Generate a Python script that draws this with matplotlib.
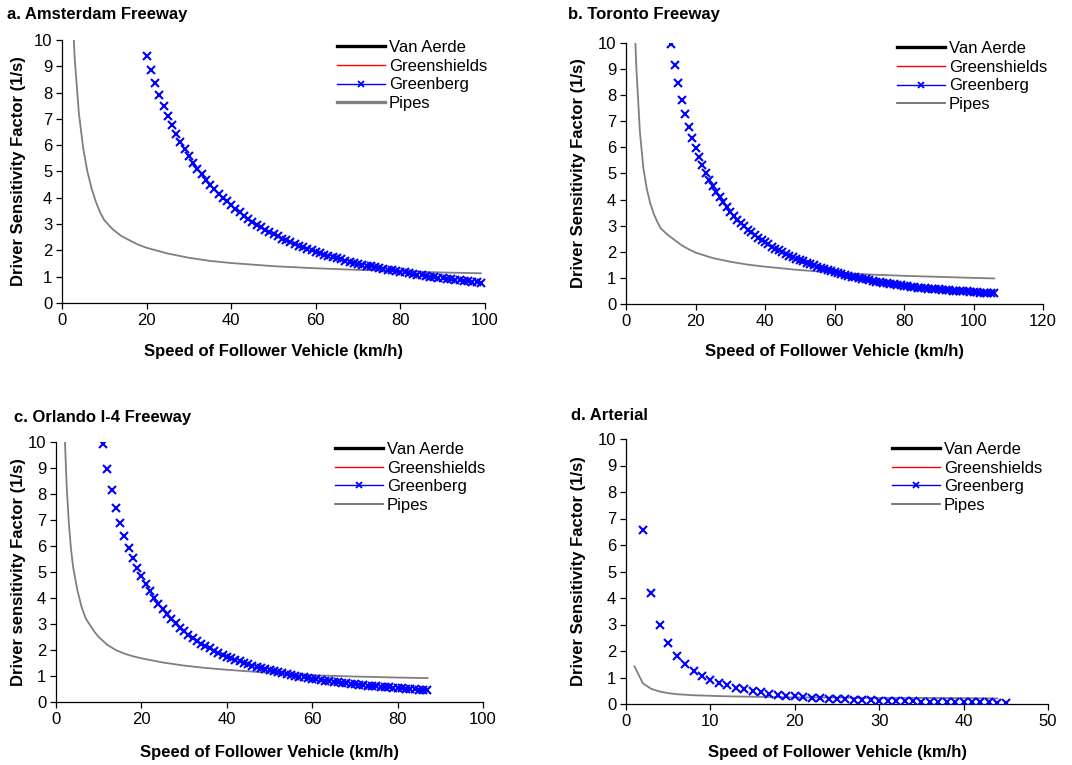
import matplotlib
matplotlib.use('Agg')
import matplotlib.pyplot as plt
from matplotlib.lines import Line2D

plt.rcParams['font.family'] = ['Liberation Sans', 'DejaVu Sans']

W, H = 1072, 765

########################## DATA ##########################

legend_labels = ['Van Aerde', 'Greenshields', 'Greenberg', 'Pipes']

# a. Amsterdam Freeway
ams_gb_speed = list(range(20, 100))
ams_gb = [9.40, 8.85, 8.35, 7.90, 7.50, 7.12, 6.77, 6.44, 6.14, 5.85,
          5.58, 5.33, 5.10, 4.89, 4.69, 4.50, 4.33, 4.16, 4.01, 3.87,
          3.73, 3.59, 3.45, 3.32, 3.20, 3.09, 2.98, 2.88, 2.79, 2.70,
          2.61, 2.53, 2.45, 2.38, 2.31, 2.24, 2.18, 2.12, 2.06, 2.00,
          1.95, 1.90, 1.84, 1.79, 1.75, 1.70, 1.66, 1.61, 1.57, 1.53,
          1.50, 1.46, 1.42, 1.39, 1.36, 1.33, 1.30, 1.27, 1.24, 1.21,
          1.19, 1.16, 1.13, 1.10, 1.08, 1.05, 1.03, 1.00, 0.98, 0.96,
          0.94, 0.92, 0.90, 0.88, 0.86, 0.84, 0.82, 0.80, 0.79, 0.77]
ams_pp_speed = [2.8, 3, 4, 5, 6, 7, 8, 9, 10, 12, 14, 16, 18, 20, 25, 30, 35,
                40, 50, 60, 70, 80, 90, 99]
ams_pp = [10.0, 9.3, 7.2, 5.9, 5.0, 4.35, 3.85, 3.45, 3.15, 2.8, 2.55, 2.38,
          2.22, 2.1, 1.88, 1.72, 1.6, 1.52, 1.4, 1.32, 1.26, 1.21, 1.16, 1.13]

# b. Toronto Freeway
tor_gb_speed = list(range(13, 107))
tor_gb = [9.96, 9.16, 8.46, 7.83, 7.28, 6.80, 6.36, 5.97, 5.62, 5.31,
          5.03, 4.77, 4.53, 4.30, 4.09, 3.89, 3.70, 3.52, 3.37, 3.23,
          3.09, 2.97, 2.85, 2.74, 2.63, 2.53, 2.44, 2.36, 2.28, 2.20,
          2.12, 2.05, 1.98, 1.92, 1.85, 1.79, 1.74, 1.68, 1.63, 1.58,
          1.53, 1.48, 1.43, 1.39, 1.34, 1.30, 1.26, 1.22, 1.19, 1.15,
          1.12, 1.08, 1.05, 1.02, 0.99, 0.96, 0.94, 0.91, 0.88, 0.86,
          0.84, 0.81, 0.79, 0.77, 0.75, 0.73, 0.72, 0.70, 0.68, 0.66,
          0.65, 0.63, 0.62, 0.61, 0.59, 0.58, 0.57, 0.56, 0.54, 0.53,
          0.52, 0.51, 0.50, 0.49, 0.48, 0.48, 0.47, 0.46, 0.45, 0.44,
          0.44, 0.43, 0.42, 0.42]
tor_pp_speed = [2.7, 3, 4, 5, 6, 7, 8, 9, 10, 12, 14, 16, 18, 20, 25, 30, 35,
                40, 50, 60, 70, 80, 90, 100, 106]
tor_pp = [10.0, 9.0, 6.6, 5.2, 4.4, 3.85, 3.45, 3.15, 2.9, 2.65, 2.45, 2.25,
          2.1, 1.97, 1.76, 1.62, 1.51, 1.43, 1.3, 1.2, 1.13, 1.08, 1.04, 1.0,
          0.98]

# c. Orlando I-4 Freeway
orl_gb_speed = list(range(11, 88))
orl_gb = [9.94, 8.98, 8.17, 7.48, 6.89, 6.37, 5.92, 5.52, 5.16, 4.83,
          4.53, 4.26, 4.01, 3.78, 3.57, 3.37, 3.19, 3.02, 2.86, 2.72,
          2.59, 2.47, 2.36, 2.25, 2.15, 2.06, 1.97, 1.89, 1.82, 1.75,
          1.68, 1.62, 1.56, 1.50, 1.45, 1.40, 1.35, 1.30, 1.26, 1.22,
          1.18, 1.14, 1.11, 1.07, 1.04, 1.01, 0.98, 0.95, 0.92, 0.89,
          0.87, 0.84, 0.82, 0.80, 0.78, 0.76, 0.74, 0.72, 0.70, 0.68,
          0.66, 0.65, 0.63, 0.62, 0.60, 0.59, 0.57, 0.56, 0.55, 0.54,
          0.52, 0.51, 0.50, 0.49, 0.48, 0.47, 0.46]
orl_pp_speed = [2.1, 2.5, 3, 3.5, 4, 5, 6, 7, 8, 9, 10, 12, 14, 16, 18, 20,
                25, 30, 35, 40, 50, 60, 70, 80, 87]
orl_pp = [10.0, 8.3, 6.9, 5.9, 5.2, 4.3, 3.65, 3.2, 2.95, 2.7, 2.5, 2.2, 2.0,
          1.86, 1.76, 1.68, 1.52, 1.4, 1.31, 1.24, 1.12, 1.03, 0.98, 0.94,
          0.92]

# d. Arterial
art_gb_speed = list(range(2, 46))
art_gb = [6.55, 4.18, 3.00, 2.29, 1.83, 1.50, 1.26, 1.07, 0.92, 0.80,
          0.70, 0.62, 0.55, 0.49, 0.44, 0.39, 0.35, 0.32, 0.29, 0.26,
          0.24, 0.22, 0.20, 0.19, 0.17, 0.16, 0.15, 0.14, 0.13, 0.12,
          0.11, 0.11, 0.10, 0.09, 0.09, 0.08, 0.08, 0.07, 0.07, 0.06,
          0.06, 0.06, 0.05, 0.05]
art_pp_speed = [1, 2, 3, 4, 5, 6, 7, 8, 9, 10, 12, 14, 16, 18, 20, 25, 30,
                35, 40, 44]
art_pp = [1.42, 0.78, 0.57, 0.47, 0.41, 0.37, 0.35, 0.33, 0.32, 0.31, 0.29,
          0.28, 0.27, 0.26, 0.25, 0.24, 0.23, 0.23, 0.22, 0.21]

################################ PLOTTING ######################################

# box in pixels: left, right, top, bottom
panels = [
    {'title': 'a. Amsterdam Freeway', 'box': (62, 485, 40, 303), 'xmax': 100, 'xstep': 20,
     'ylabel': 'Driver Sensitivity Factor (1/s)', 'gb': (ams_gb_speed, ams_gb),
     'pp': (ams_pp_speed, ams_pp), 'title_px': (7, 15), 'ylab_px': 19, 'xlab_px': 352,
     'leg_px': (337, 40), 'pipes_leg': ('#808080', 2.4)},
    {'title': 'b. Toronto Freeway', 'box': (626, 1043, 43, 304), 'xmax': 120, 'xstep': 20,
     'ylabel': 'Driver Sensitivity Factor (1/s)', 'gb': (tor_gb_speed, tor_gb),
     'pp': (tor_pp_speed, tor_pp), 'title_px': (568, 15), 'ylab_px': 579, 'xlab_px': 352,
     'leg_px': (897, 41), 'pipes_leg': ('#606060', 1.2)},
    {'title': 'c. Orlando I-4 Freeway', 'box': (56, 483, 442, 702), 'xmax': 100, 'xstep': 20,
     'ylabel': 'Driver sensitivity Factor (1/s)', 'gb': (orl_gb_speed, orl_gb),
     'pp': (orl_pp_speed, orl_pp), 'title_px': (14, 418), 'ylab_px': 19, 'xlab_px': 752,
     'leg_px': (335, 442), 'pipes_leg': ('#606060', 1.2)},
    {'title': 'd. Arterial', 'box': (626, 1048, 439, 704), 'xmax': 50, 'xstep': 10,
     'ylabel': 'Driver Sensitivity Factor (1/s)', 'gb': (art_gb_speed, art_gb),
     'pp': (art_pp_speed, art_pp), 'title_px': (571, 416), 'ylab_px': 579, 'xlab_px': 752,
     'leg_px': (892, 442), 'pipes_leg': ('#606060', 1.2)},
]

fig = plt.figure(figsize=(W / 100, H / 100), dpi=100)

for p in panels:
    l, r, t, b = p['box']
    ax = fig.add_axes([l / W, 1 - b / H, (r - l) / W, (b - t) / H])

    ax.plot(p['pp'][0], p['pp'][1], color='#7f7f7f', lw=1.3, zorder=2)
    ax.plot(p['gb'][0], p['gb'][1], ls='none', marker='x', color='#0000ff',
            ms=5.8, mew=1.5, zorder=3)

    ax.set_xlim(0, p['xmax'])
    ax.set_ylim(0, 10)
    ax.set_xticks(range(0, p['xmax'] + 1, p['xstep']))
    ax.set_yticks(range(0, 11))
    for s in ['top', 'right']:
        ax.spines[s].set_visible(False)
    for s in ['left', 'bottom']:
        ax.spines[s].set_linewidth(0.9)
    ax.tick_params(direction='out', length=4, width=0.9, labelsize=12, pad=3)

    ax.set_ylabel(p['ylabel'], fontsize=12, fontweight='bold', va='center')
    ax.yaxis.set_label_coords((p['ylab_px'] - l) / (r - l), 0.5)
    ax.set_xlabel('Speed of Follower Vehicle (km/h)', fontsize=12, fontweight='bold', va='center')
    ax.xaxis.set_label_coords(0.5, (b - p['xlab_px']) / (b - t))

    fig.text(p['title_px'][0] / W, 1 - p['title_px'][1] / H, p['title'],
             fontsize=12, fontweight='bold', ha='left', va='center')

    handles = [Line2D([], [], color='black', lw=2.4),
               Line2D([], [], color='red', lw=1.0),
               Line2D([], [], color='#0000ff', lw=1.0, marker='x', ms=5, mew=1.3),
               Line2D([], [], color=p['pipes_leg'][0], lw=p['pipes_leg'][1])]
    ax.legend(handles, legend_labels, loc='upper left',
              bbox_to_anchor=(p['leg_px'][0] / W, 1 - p['leg_px'][1] / H),
              bbox_transform=fig.transFigure, frameon=False, borderpad=0,
              borderaxespad=0, handlelength=2.9, handletextpad=0.2,
              labelspacing=0.22, fontsize=12, markerfirst=True)

fig.savefig('out.png', dpi=100)
